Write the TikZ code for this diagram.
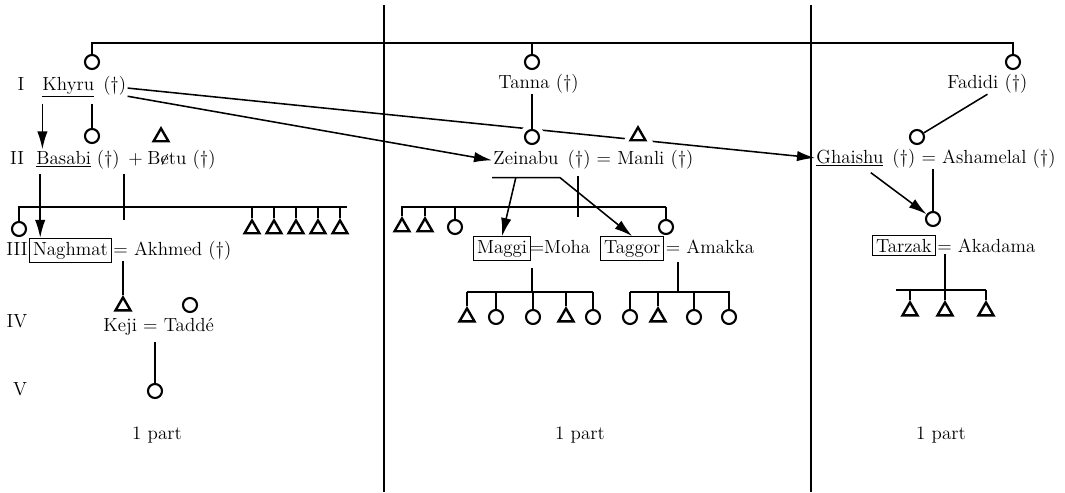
\documentclass[tikz,border=0pt]{standalone}
\usetikzlibrary{shapes.geometric}
\usetikzlibrary{arrows.meta}
\usetikzlibrary{calc}
\tikzset{every picture/.style={/utils/exec={\fontsize{13.5}{16}\selectfont}}}
\tikzset{
  fem/.style={circle, draw, line width=1.5pt, minimum size=0.35cm, inner sep=0pt, fill=white},
  mal/.style={regular polygon, regular polygon sides=3, draw, line width=1.7pt, minimum size=0.43cm, inner sep=0pt, fill=white},
  halo/.style={preaction={draw=white, line width=8pt}},
  who/.style={anchor=base west, inner sep=0.5pt},
  egobox/.style={who, draw, line width=0.7pt, inner sep=2.5pt},
}
\newcommand{\slashe}{\ooalign{e\cr\hidewidth\raisebox{-1pt}{\rotatebox[origin=c]{-28}{\rule{0.5pt}{8.5pt}}}\hidewidth}}
\begin{document}
\begin{tikzpicture}[x=0.025cm, y=-0.025cm, line width=1.1pt, >={Latex[length=4.5mm, width=2.6mm]}]
  \useasboundingbox (0,0) rectangle (1065,493);

  \draw (384,5) -- (384,492);
  \draw (811,5) -- (811,492);

  % generation I
  \node[fem] (m1) at (92,62) {};
  \node[fem] (m2) at (532,62) {};
  \node[fem] (m3) at (1013,62) {};
  \coordinate (apex) at (532,43);
  \draw (m1.north) |- (apex) -| (m3.north);
  \draw (apex) -- (m2.north);

  \node[anchor=base] (genI) at (21,90) {I};
  \node[who] (khyru) at (41,90) {\underline{Khyru}};
  \node[who] (khyrud) at (khyru.base east) {\ (\textdagger)};
  \node[who] (tanna) at (497,88) {Tanna (\textdagger)};
  \node[who] (fadidi) at (946,88) {Fadidi (\textdagger)};

  % generation II
  \node[anchor=base] (genII) at (17,164) {II};
  \node[who] (basabi) at (35,164) {\underline{Basabi}};
  \node[who] (basabid) at ([xshift=2pt]basabi.base east) {(\textdagger)};
  \node[who] (plus) at (127,164) {+};
  \node[who] (betu) at (146,164) {B\slashe tu (\textdagger)};
  \node[who] (zeinabu) at (492,164) {Zeinabu};
  \node[who] (manli) at (zeinabu.base east) {\ (\textdagger) = Manli (\textdagger)};
  \node[who] (ghaishu) at (815,163) {\underline{Ghaishu}};
  \node[who] (ashamelal) at (ghaishu.base east) {\ (\textdagger) = Ashamelal (\textdagger)};

  \draw[->] ([yshift=-2pt]khyrud.east) -- (ghaishu.west);
  \draw[->] (khyrud.south east) -- ([yshift=-2pt]zeinabu.west);

  \node[fem] (c2) at (92,136) {};
  \node[mal] (t2) at (161,137) {};
  \node[fem, halo] (c3) at (532,137) {};
  \node[mal, halo] (t3) at (638,136) {};
  \node[fem] (c4) at (917,137) {};

  \draw[->] ([xshift=1pt, yshift=-4pt]khyru.south west) -- ([xshift=1pt]khyru.south west |- basabi.north);
  \draw[shorten >=4pt] (c2.north) -- (c2.north |- khyru.south);
  \draw (c3.north |- tanna.south) -- (c3.north);
  \draw (fadidi.south) -- (c4);

  % generation III
  \node[anchor=base] (genIII) at (17,255) {III};
  \node[egobox] (naghmat) at (29,255) {Naghmat};
  \node[who] (akhmed) at (naghmat.base east) {= Akhmed (\textdagger)};
  \draw (18,207) -- (347,207);
  \foreach \x/\s in {19/fem, 252/mal, 274/mal, 296/mal, 318/mal, 340/mal} {
    \node[\s] (s\x) at (\x,229) {};
    \draw (s\x.north) -- (\x,207);
  }
  \draw[->] ([xshift=1.3mm, yshift=-4pt]basabi.south west) -- ([xshift=1.3mm]basabi.south west |- naghmat.north);
  \coordinate (bb) at (124,220);
  \draw[shorten >=5pt] (bb) -- (bb |- plus.south);

  \node[egobox] (maggi) at (473,253) {Maggi};
  \node[who] (moha) at ([xshift=-2pt]maggi.base east) {=Moha};
  \node[egobox] (taggor) at (600,253) {Taggor};
  \node[who] (amakka) at (taggor.base east) {= Amakka};
  \draw (401,207) -- (666,207);
  \foreach \x/\s in {402/mal, 425/mal, 455/fem, 666/fem} {
    \node[\s] (s\x) at (\x,227) {};
    \draw (s\x.north) -- (\x,207);
  }
  \coordinate (zl) at ([yshift=-3mm]zeinabu.south west);
  \coordinate (zr) at ([yshift=-3mm]zeinabu.south east);
  \draw[->] (zl) -- (zr) -- (taggor.north);
  \draw[->] ($(zl)!0.35!(zr)$) -- (maggi.north);
  \coordinate (zm) at (578,217);
  \draw[shorten >=4pt] (zm) -- (zm |- manli.south);

  \node[fem] (c5) at (933,219) {};
  \draw[->] ($(ghaishu.south west)!0.8!(ghaishu.south east)+(0,5)$) -- (c5);
  \draw (c5.north |- ashamelal.south) -- (c5.north);
  \node[egobox] (tarzak) at (872,252) {Tarzak};
  \node[who] (akadama) at (tarzak.base east) {= Akadama};

  % generation IV
  \node[anchor=base] (genIV) at (17,327) {IV};
  \node[mal] (t4) at (123,306) {};
  \node[fem] (c6) at (190,305) {};
  \draw (t4.north |- akhmed.south) -- (t4.north);
  \node[who] (keji) at (102,331) {Keji = Taddé};

  \coordinate (mm) at (532,292);
  \draw[shorten >=5pt] (mm) -- (mm |- maggi.south);
  \draw (467,292) -- (593,292);
  \foreach \x/\s in {467/mal, 496/fem, 533/fem, 566/mal, 593/fem} {
    \node[\s] (s\x) at (\x,317) {};
    \draw (s\x.north) -- (\x,292);
  }
  \coordinate (ta) at (678,292);
  \draw[shorten >=5pt] (ta) -- (ta |- amakka.south);
  \draw (630,292) -- (730,292);
  \foreach \x/\s in {630/fem, 658/mal, 694/fem, 729/fem} {
    \node[\s] (s\x) at (\x,317) {};
    \draw (s\x.north) -- (\x,292);
  }

  \coordinate (tk) at (945,290);
  \draw (tk) -- (tk |- akadama.south);
  \draw (896,290) -- (986,290);
  \foreach \x in {910, 945, 986} {
    \node[mal] (s\x) at (\x,311) {};
    \draw (s\x.north) -- (\x,290);
  }

  % generation V
  \node[anchor=base] (genV) at (20,395) {V};
  \node[fem] (c7) at (155,391) {};
  \draw[shorten >=4pt] (c7.north) -- (c7.north |- keji.south);

  \node (part1) at (157,435) {1 part};
  \node (part2) at (580,435) {1 part};
  \node (part3) at (941,435) {1 part};
\end{tikzpicture}
\end{document}
